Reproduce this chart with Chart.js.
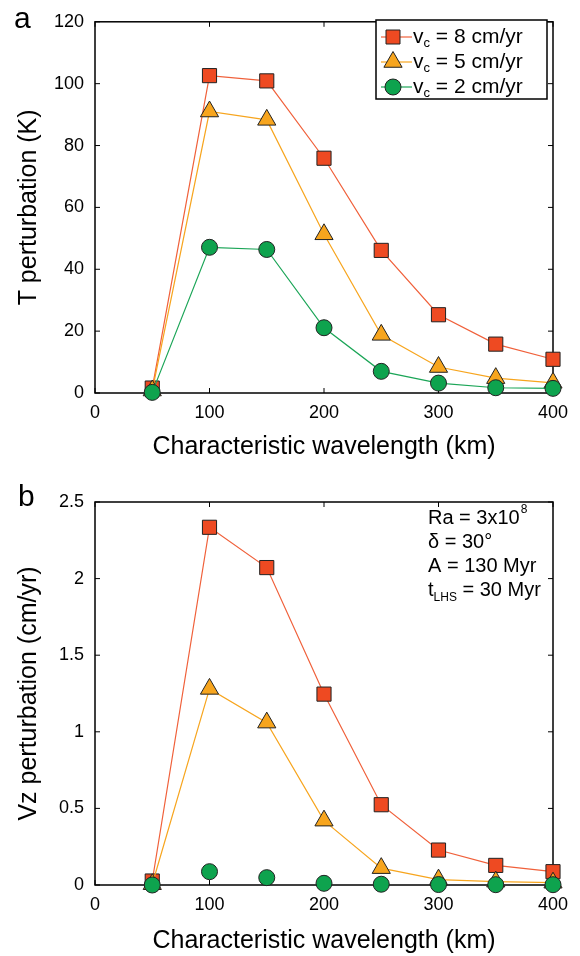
<!DOCTYPE html>
<html>
<head>
<meta charset="utf-8">
<script src="https://cdn.jsdelivr.net/npm/chart.js@4.4.0/dist/chart.umd.min.js"></script>
<style>
  body { margin: 0; background: #fff; }
  .panel { position: absolute; left: 0; width: 580px; height: 478px; }
</style>
</head>
<body>
<div class="panel" style="top:0"><canvas id="chartA" width="580" height="478"></canvas></div>
<div class="panel" style="top:478px"><canvas id="chartB" width="580" height="478"></canvas></div>
<script>
// wavelengths (km)
var wavelengths = [50, 100, 150, 200, 250, 300, 350, 400];
var seriesNames = ["8", "5", "2"];

// panel a: temperature perturbation (K)
var tempV8 = [1.6, 102.6, 100.9, 75.9, 46.1, 25.3, 15.8, 10.9];
var tempV5 = [0.8, 91.0, 88.3, 51.3, 18.8, 8.4, 4.8, 3.3];
var tempV2 = [0.2, 47.1, 46.4, 21.1, 7.0, 3.2, 1.7, 1.5];

// panel b: vertical velocity perturbation (cm/yr)
var vzV8 = [0.026, 2.335, 2.072, 1.246, 0.524, 0.228, 0.128, 0.087];
var vzV5 = [0.005, 1.28, 1.06, 0.42, 0.11, 0.035, 0.022, 0.015];
var vzV2 = [0.0, 0.087, 0.048, 0.011, 0.005, 0.003, 0.002, 0.002];

var xTicks = [0, 100, 200, 300, 400];
var tempTicks = [0, 20, 40, 60, 80, 100, 120];
var vzTicks = [0, 0.5, 1, 1.5, 2, 2.5];

var notes = ["Ra = 3x10", "\u03b4 = 30\u00b0", "A = 130 Myr"];

var FONT = "'Liberation Sans', Arial, Helvetica, sans-serif";
var RED = "#EE4A22", RED_LINE = "#F0603A";
var ORANGE = "#F7A51E", ORANGE_LINE = "#F7A51E";
var GREEN = "#0EA34E", GREEN_LINE = "#1BA557";

function pts(ys) {
    return wavelengths.map(function(x, i) { return {x: x, y: ys[i]}; });
}

function makeSets(a, b, c, greenLine) {
    return [
        { label: seriesNames[0], data: pts(a), borderColor: RED_LINE, backgroundColor: RED,
          pointStyle: "rect", pointRadius: 10, pointBorderColor: "#222", pointBorderWidth: 1,
          borderWidth: 1.2, clip: false, order: 3 },
        { label: seriesNames[1], data: pts(b), borderColor: ORANGE_LINE, backgroundColor: ORANGE,
          pointStyle: "triangle", pointRadius: 10.5, pointBorderColor: "#222", pointBorderWidth: 1,
          borderWidth: 1.2, clip: false, order: 2 },
        { label: seriesNames[2], data: pts(c), borderColor: GREEN_LINE, backgroundColor: GREEN,
          pointStyle: "circle", pointRadius: 8, pointBorderColor: "#222", pointBorderWidth: 1,
          borderWidth: 1.2, showLine: greenLine, clip: false, order: 1 }
    ];
}

// frame with inward ticks on all four sides, MATLAB style
var boxTicks = {
    id: "boxTicks",
    beforeDatasetsDraw: function(chart) {
        var ctx = chart.ctx, a = chart.chartArea;
        var xs = chart.scales.x, ys = chart.scales.y;
        ctx.save();
        ctx.strokeStyle = "#000";
        ctx.lineWidth = 1.5;
        ctx.strokeRect(a.left, a.top, a.right - a.left, a.bottom - a.top);
        ctx.lineWidth = 1;
        ctx.beginPath();
        xs.ticks.forEach(function(t) {
            var px = xs.getPixelForValue(t.value);
            ctx.moveTo(px, a.bottom); ctx.lineTo(px, a.bottom - 5);
            ctx.moveTo(px, a.top); ctx.lineTo(px, a.top + 5);
        });
        ys.ticks.forEach(function(t) {
            var py = ys.getPixelForValue(t.value);
            ctx.moveTo(a.left, py); ctx.lineTo(a.left + 5, py);
            ctx.moveTo(a.right, py); ctx.lineTo(a.right - 5, py);
        });
        ctx.stroke();
        ctx.restore();
    }
};

function subText(ctx, x, y, main, sub, rest, size) {
    ctx.font = size + "px " + FONT;
    ctx.fillText(main, x, y);
    var w = ctx.measureText(main).width;
    ctx.font = Math.round(size * 0.6) + "px " + FONT;
    ctx.fillText(sub, x + w, y + size * 0.32);
    var w2 = ctx.measureText(sub).width;
    ctx.font = size + "px " + FONT;
    ctx.fillText(rest, x + w + w2, y);
}

var panelLabel = {
    id: "panelLabel",
    afterDraw: function(chart) {
        var o = chart.options.plugins.panelLabel;
        var ctx = chart.ctx;
        ctx.save();
        ctx.fillStyle = "#000";
        ctx.textBaseline = "middle";
        ctx.font = "30px " + FONT;
        ctx.fillText(o.text, o.x, o.y);
        ctx.restore();
    }
};

var seriesLegend = {
    id: "seriesLegend",
    afterDraw: function(chart) {
        if (!chart.options.plugins.seriesLegend.show) return;
        var ctx = chart.ctx;
        var left = 376, top = 20, w = 171, h = 79;
        var mx = 393;
        ctx.save();
        ctx.fillStyle = "#fff";
        ctx.fillRect(left, top, w, h);
        ctx.strokeStyle = "#000";
        ctx.lineWidth = 1.5;
        ctx.strokeRect(left, top, w, h);
        chart.data.datasets.forEach(function(ds, i) {
            var cy = top + 17 + i * 25;
            ctx.strokeStyle = ds.borderColor;
            ctx.lineWidth = 1.2;
            ctx.beginPath();
            ctx.moveTo(381, cy); ctx.lineTo(412, cy);
            ctx.stroke();
            ctx.fillStyle = ds.backgroundColor;
            ctx.strokeStyle = "#222";
            ctx.lineWidth = 1;
            ctx.beginPath();
            if (ds.pointStyle === "rect") {
                ctx.rect(mx - 7, cy - 7, 14, 14);
            } else if (ds.pointStyle === "triangle") {
                ctx.moveTo(mx, cy - 10.5); ctx.lineTo(mx + 9.1, cy + 5.25); ctx.lineTo(mx - 9.1, cy + 5.25); ctx.closePath();
            } else {
                ctx.arc(mx, cy, 8, 0, Math.PI * 2);
            }
            ctx.fill(); ctx.stroke();
            ctx.fillStyle = "#000";
            ctx.textBaseline = "middle";
            subText(ctx, 413, cy, "v", "c", " = " + ds.label + " cm/yr", 21);
        });
        ctx.restore();
    }
};

var notesBox = {
    id: "notesBox",
    afterDraw: function(chart) {
        if (!chart.options.plugins.notesBox.show) return;
        var ctx = chart.ctx;
        ctx.save();
        ctx.fillStyle = "#000";
        ctx.textBaseline = "middle";
        var x = 428, y0 = 40, dy = 24.3;
        ctx.font = "20px " + FONT;
        ctx.fillText(notes[0], x, y0);
        var w = ctx.measureText(notes[0]).width;
        ctx.font = "12px " + FONT;
        ctx.fillText("8", x + w + 1, y0 - 8);
        ctx.font = "20px " + FONT;
        ctx.fillText(notes[1], x, y0 + dy);
        ctx.fillText(notes[2], x, y0 + 2 * dy);
        subText(ctx, x, y0 + 3 * dy, "t", "LHS", " = 30 Myr", 20);
        ctx.restore();
    }
};

function makeChart(id, sets, yTicks, yMax, yTitle, xAxisH, xTitlePad, pad, opts) {
    return new Chart(document.getElementById(id).getContext("2d"), {
        type: "line",
        data: { datasets: sets },
        options: {
            responsive: false,
            animation: false,
            layout: { padding: pad },
            plugins: {
                legend: { display: false },
                tooltip: { enabled: false },
                panelLabel: opts.label,
                seriesLegend: { show: opts.legend },
                notesBox: { show: opts.notes }
            },
            scales: {
                x: {
                    type: "linear", min: 0, max: 400,
                    afterBuildTicks: function(s) { s.ticks = xTicks.map(function(v) { return {value: v}; }); },
                    afterFit: function(s) { s.height = xAxisH; },
                    grid: { display: false, drawTicks: false },
                    border: { display: false },
                    ticks: { color: "#000", padding: 9, font: { family: FONT, size: 18 } },
                    title: { display: true, text: "Characteristic wavelength (km)", color: "#000",
                             font: { family: FONT, size: 25 }, padding: { top: 4, bottom: xTitlePad } }
                },
                y: {
                    min: 0, max: yMax,
                    afterBuildTicks: function(s) { s.ticks = yTicks.map(function(v) { return {value: v}; }); },
                    afterFit: function(s) { s.width = 95; },
                    grid: { display: false, drawTicks: false },
                    border: { display: false },
                    ticks: { color: "#000", padding: 11, font: { family: FONT, size: 18 },
                             callback: function(v) { return String(v); } },
                    title: { display: true, text: yTitle, color: "#000",
                             font: { family: FONT, size: 25 }, padding: { top: 14, bottom: 4 } }
                }
            }
        },
        plugins: [boxTicks, panelLabel, seriesLegend, notesBox]
    });
}

document.addEventListener("DOMContentLoaded", function() {
    makeChart("chartA", makeSets(tempV8, tempV5, tempV2, true), tempTicks, 120,
        "T perturbation (K)", 85, 16, { left: 0, top: 18, right: 27, bottom: 0 },
        { label: { text: "a", x: 14, y: 20 }, legend: true, notes: false });
    makeChart("chartB", makeSets(vzV8, vzV5, vzV2, false), vzTicks, 2.5,
        "Vz perturbation (cm/yr)", 71, 0, { left: 0, top: 24, right: 27, bottom: 0 },
        { label: { text: "b", x: 18, y: 20 }, legend: false, notes: true });
});
</script>
</body>
</html>
